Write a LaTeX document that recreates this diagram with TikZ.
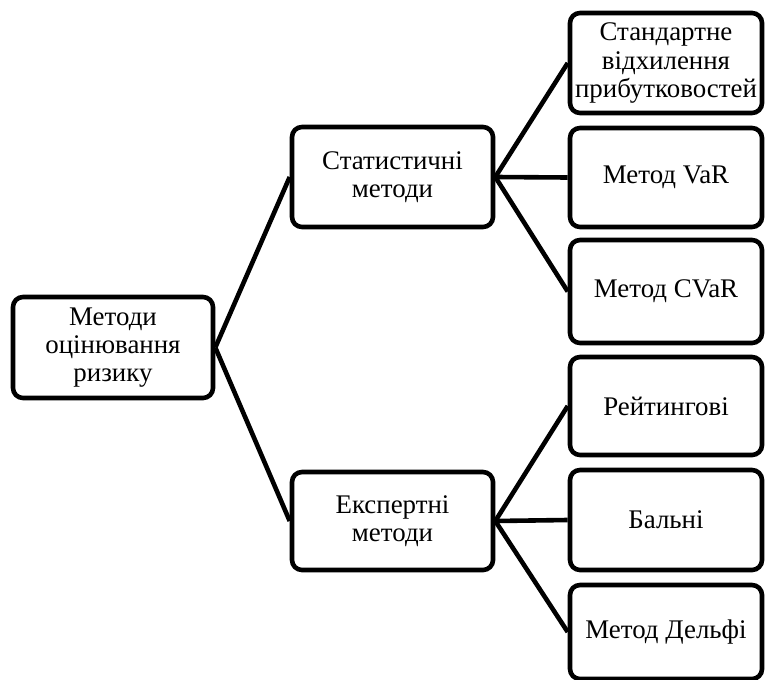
\documentclass[tikz,border=0pt]{standalone}
\usepackage{fontspec}
\setmainfont{Liberation Serif}
\begin{document}
\begin{tikzpicture}[x=1bp,y=-1bp,
  box/.style={draw=black,line width=4.6bp,rounded corners=10bp,align=center,
    font=\fontsize{27}{28.5}\selectfont,inner sep=0pt},
  conn/.style={line width=4.6bp}]
\useasboundingbox (0,0) rectangle (765,680);
% boxes
\node[box,minimum width=200bp,minimum height=101bp] (root) at (113,347.5) {Методи\\оцінювання\\ризику};
\node[box,minimum width=201bp,minimum height=100bp] (stat) at (392.5,177) {Статистичні\\методи};
\node[box,minimum width=201bp,minimum height=98bp] (exp) at (392.5,521) {Експертні\\методи};
\node[box,minimum width=192bp,minimum height=100bp] (s1) at (666,63) {Стандартне\\відхилення\\прибутковостей};
\node[box,minimum width=192bp,minimum height=99bp] (s2) at (666,177.5) {Метод VaR};
\node[box,minimum width=192bp,minimum height=103bp] (s3) at (666,291.5) {Метод CVaR};
\node[box,minimum width=192bp,minimum height=98bp] (e1) at (666,406) {Рейтингові};
\node[box,minimum width=192bp,minimum height=100bp] (e2) at (666,520) {Бальні};
\node[box,minimum width=192bp,minimum height=94bp] (e3) at (666,632) {Метод Дельфі};
% connectors
\draw[conn] (root.east) -- (stat.west);
\draw[conn] (root.east) -- (exp.west);
\draw[conn] (stat.east) -- (s1.west);
\draw[conn] (stat.east) -- (s2.west);
\draw[conn] (stat.east) -- (s3.west);
\draw[conn] (exp.east) -- (e1.west);
\draw[conn] (exp.east) -- (e2.west);
\draw[conn] (exp.east) -- (e3.west);
\end{tikzpicture}
\end{document}
